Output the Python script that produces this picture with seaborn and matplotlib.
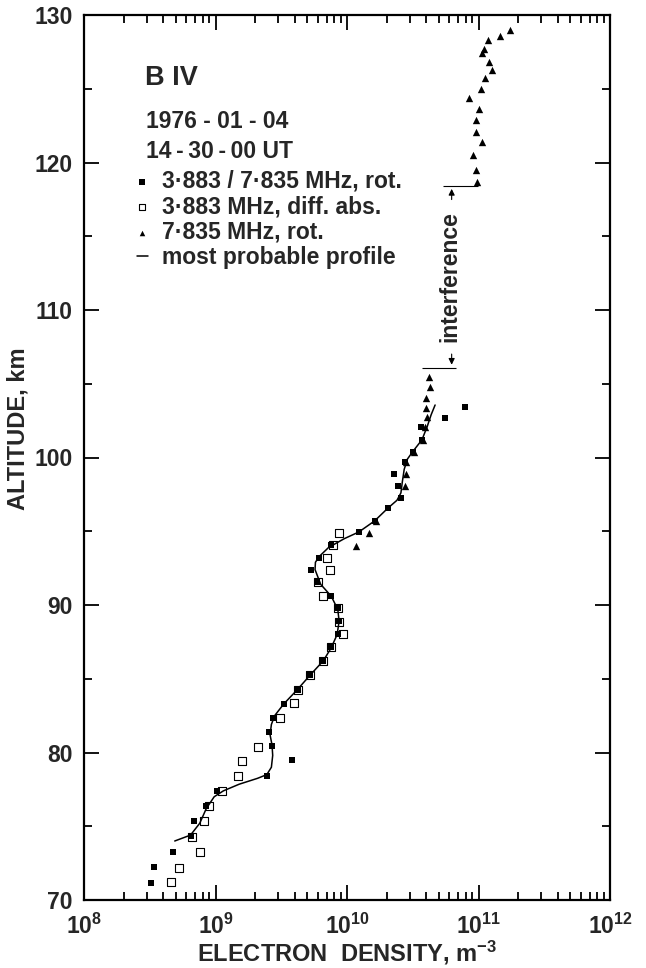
import numpy as np
import pandas as pd
import seaborn as sns
import matplotlib.pyplot as plt
from matplotlib.ticker import LogLocator, MultipleLocator, FuncFormatter, NullFormatter

# ----------------------------
# Data (log10 of electron density in m^-3, altitude in km)
# ----------------------------
# 3.883/7.835 MHz, rot. (filled squares)
rot_log_ne = [10.90, 10.745, 10.56, 10.57, 10.50, 10.44, 10.36, 10.385, 10.41, 10.31,
              10.21, 10.09, 9.88, 9.79, 9.73, 9.77, 9.876, 9.93, 9.94, 9.93,
              9.876, 9.82, 9.72, 9.625, 9.52, 9.44, 9.41, 9.43, 9.58, 9.39,
              9.01, 8.93, 8.84, 8.81, 8.68, 8.53, 8.51]
rot_alt = [103.45, 102.7, 102.05, 101.2, 100.4, 99.67, 98.9, 98.09, 97.27, 96.56,
           95.7, 94.95, 94.07, 93.2, 92.35, 91.56, 90.63, 89.8, 88.9, 88.03,
           87.17, 86.22, 85.25, 84.24, 83.29, 82.32, 81.41, 80.44, 79.49, 78.43,
           77.41, 76.37, 75.38, 74.36, 73.28, 72.22, 71.17]

# 3.883 MHz, diff. abs. (open squares)
abs_log_ne = [9.94, 9.89, 9.85, 9.87, 9.78, 9.82, 9.93, 9.94, 9.97, 9.876,
              9.82, 9.72, 9.63, 9.60, 9.49, 9.32, 9.20, 9.17, 9.05, 8.95,
              8.91, 8.82, 8.88, 8.72, 8.66]
abs_alt = [94.86, 94.07, 93.19, 92.35, 91.56, 90.6, 89.78, 88.87, 88.03, 87.17,
           86.22, 85.25, 84.24, 83.33, 82.36, 80.4, 79.42, 78.41, 77.41, 76.37,
           75.38, 74.29, 73.28, 72.19, 71.2]

# 7.835 MHz, rot. (triangles)
tri_log_ne = [11.24, 11.16, 11.07, 11.04, 11.03, 11.08, 11.10, 11.05, 11.02, 10.93,
              11.00, 10.98, 10.98, 11.03, 10.96, 10.98, 10.99,
              10.62, 10.63, 10.60, 10.60, 10.61, 10.59, 10.58, 10.51, 10.45,
              10.45, 10.44, 10.22, 10.17, 10.07]
tri_alt = [128.98, 128.6, 128.3, 127.7, 127.4, 126.8, 126.3, 125.7, 125.0, 124.35,
           123.6, 122.9, 122.1, 121.4, 120.5, 119.5, 118.65,
           105.48, 104.76, 104.05, 103.33, 102.72, 102.05, 101.2, 100.4, 99.67,
           98.9, 98.09, 95.7, 94.9, 94.0]

# most probable profile (solid curve)
prof_log_ne = [8.69, 8.81, 8.88, 8.93, 8.99, 9.06, 9.18, 9.32, 9.39, 9.425,
               9.435, 9.43, 9.415, 9.425, 9.45, 9.52, 9.62, 9.72, 9.82, 9.88,
               9.925, 9.94, 9.93, 9.88, 9.80, 9.757, 9.76, 9.79, 9.86, 9.98,
               10.09, 10.21, 10.31, 10.38, 10.41, 10.42, 10.435, 10.46, 10.50, 10.57,
               10.61, 10.64, 10.67]
prof_alt = [74.0, 74.4, 75.2, 76.2, 77.0, 77.4, 77.85, 78.25, 78.5, 79.0,
            79.8, 80.5, 81.2, 81.9, 82.5, 83.3, 84.24, 85.25, 86.22, 87.1,
            88.0, 88.9, 89.7, 90.6, 91.4, 92.4, 92.9, 93.3, 93.9, 94.5,
            94.95, 95.7, 96.56, 97.1, 97.6, 98.3, 99.2, 99.9, 100.4, 101.2,
            102.1, 102.9, 103.56]

# interference gap (km) and bracket extents (m^-3)
interf_top, interf_bottom = 118.4, 106.1
interf_top_x = (5.4e10, 9.9e10)
interf_bottom_x = (3.7e10, 6.8e10)
interf_x = 6.25e10

df_rot = pd.DataFrame({"ne": np.power(10.0, rot_log_ne), "alt": rot_alt})
df_abs = pd.DataFrame({"ne": np.power(10.0, abs_log_ne), "alt": abs_alt})
df_tri = pd.DataFrame({"ne": np.power(10.0, tri_log_ne), "alt": tri_alt})
df_prof = pd.DataFrame({"ne": np.power(10.0, prof_log_ne), "alt": prof_alt})

# ----------------------------
# Plot
# ----------------------------
sns.set_theme(style="ticks")
plt.rcParams["font.family"] = ["Liberation Sans", "DejaVu Sans"]
plt.rcParams["mathtext.fontset"] = "custom"
plt.rcParams["mathtext.rm"] = "Liberation Sans:bold"
plt.rcParams["mathtext.bf"] = "Liberation Sans:bold"
plt.rcParams["mathtext.it"] = "Liberation Sans:bold"

fig = plt.figure(figsize=(6.46, 9.68), dpi=100)
ax = fig.add_axes([84 / 646, 68 / 968, 526 / 646, 885 / 968])

sns.scatterplot(data=df_abs, x="ne", y="alt", marker="s", s=30, facecolor="white",
                edgecolor="black", linewidth=0.8, label="3·883 MHz, diff. abs.", ax=ax, zorder=2)
sns.lineplot(data=df_prof, x="ne", y="alt", sort=False, estimator=None, color="black",
             linewidth=1.1, label="most probable profile", ax=ax, zorder=3)
sns.scatterplot(data=df_rot, x="ne", y="alt", marker="s", s=24, color="black",
                edgecolor="black", linewidth=0, label="3·883 / 7·835 MHz, rot.", ax=ax, zorder=4)
sns.scatterplot(data=df_tri, x="ne", y="alt", marker="^", s=28, color="black",
                edgecolor="black", linewidth=0, label="7·835 MHz, rot.", ax=ax, zorder=4)

ax.set_xscale("log")
ax.set_xlim(1e8, 1e12)
ax.set_ylim(70, 130)

ax.xaxis.set_major_locator(LogLocator(base=10, numticks=10))
ax.xaxis.set_minor_locator(LogLocator(base=10, subs=np.arange(2, 10), numticks=20))
ax.xaxis.set_minor_formatter(NullFormatter())
ax.xaxis.set_major_formatter(FuncFormatter(lambda v, p: r"$\mathbf{10^{%d}}$" % round(np.log10(v))))
ax.yaxis.set_major_locator(MultipleLocator(10))
ax.yaxis.set_minor_locator(MultipleLocator(5))

ax.tick_params(which="both", direction="in", top=True, right=True, width=1.3, color="black")
ax.tick_params(which="major", length=11, labelsize=16.5, pad=8)
ax.tick_params(which="minor", length=6)
ax.tick_params(axis="x", which="major", pad=10)
for lab in ax.get_yticklabels():
    lab.set_fontweight("bold")
for sp in ax.spines.values():
    sp.set_linewidth(1.6)
    sp.set_color("black")

ax.set_xlabel("ELECTRON  DENSITY, m$^{-3}$", fontsize=17, fontweight="bold", labelpad=0)
ax.set_ylabel("ALTITUDE, km", fontsize=17, fontweight="bold")
ax.yaxis.set_label_coords(-0.104, 0.532)

# interference bracket
ax.hlines(interf_top, *interf_top_x, color="black", linewidth=0.8)
ax.hlines(interf_bottom, *interf_bottom_x, color="black", linewidth=0.8)
ax.text(interf_x * 0.97, (interf_top + interf_bottom) / 2, "interference", rotation=90,
        ha="center", va="center", fontsize=16.5, fontweight="bold")
ax.annotate("", xy=(interf_x, interf_top), xytext=(interf_x, 117.3),
            arrowprops=dict(arrowstyle="-|>", lw=0.8, color="black", mutation_scale=9))
ax.annotate("", xy=(interf_x, interf_bottom), xytext=(interf_x, 107.2),
            arrowprops=dict(arrowstyle="-|>", lw=0.8, color="black", mutation_scale=9))

# header text
ax.text(0.116, 0.929, "B IV", transform=ax.transAxes, fontsize=19.5, fontweight="bold", va="center")
ax.text(0.117, 0.880, "1976 - 01 - 04", transform=ax.transAxes, fontsize=16.5, fontweight="bold", va="center")
ax.text(0.117, 0.846, "14\u2009-\u200930\u2009-\u200900 UT", transform=ax.transAxes,
        fontsize=16.5, fontweight="bold", va="center")

handles, labels = ax.get_legend_handles_labels()
order = [2, 0, 3, 1]
leg = ax.legend([handles[i] for i in order], [labels[i] for i in order],
                loc="upper left", bbox_to_anchor=(0.1, 0.825), frameon=False,
                handlelength=0.5, handletextpad=0.6, labelspacing=0.11, borderpad=0,
                borderaxespad=0, markerscale=0.75, prop={"size": 16.5, "weight": "bold"})

plt.savefig("out.png", dpi=100)
